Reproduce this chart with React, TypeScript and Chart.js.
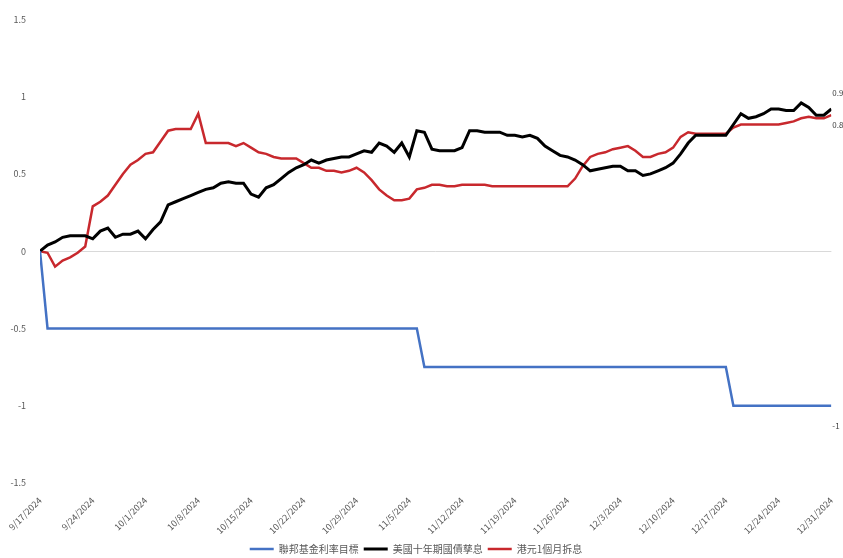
import React, { useEffect, useRef } from "react";
import { Chart, registerables } from "chart.js";

Chart.register(...registerables);

// Day index 0 = 9/17/2024 ... 105 = 12/31/2024
const TICK_LABELS = [
  "9/17/2024", "9/24/2024", "10/1/2024", "10/8/2024", "10/15/2024", "10/22/2024",
  "10/29/2024", "11/5/2024", "11/12/2024", "11/19/2024", "11/26/2024", "12/3/2024",
  "12/10/2024", "12/17/2024", "12/24/2024", "12/31/2024",
];

const SERIES_NAMES = ["聯邦基金利率目標", "美國十年期國債孳息", "港元1個月拆息"];

// Fed funds target change: step points (day index, value)
const FED_DAYS = [0, 1, 50, 51, 91, 92, 105];
const FED_VALUES = [0, -0.5, -0.5, -0.75, -0.75, -1, -1];

const UST10Y = [
  0, 0.04, 0.06, 0.09, 0.1, 0.1, 0.1, 0.08, 0.13, 0.15,
  0.09, 0.11, 0.11, 0.13, 0.08, 0.14, 0.19, 0.3, 0.32, 0.34,
  0.36, 0.38, 0.4, 0.41, 0.44, 0.45, 0.44, 0.44, 0.37, 0.35,
  0.41, 0.43, 0.47, 0.51, 0.54, 0.56, 0.59, 0.57, 0.59, 0.6,
  0.61, 0.61, 0.63, 0.65, 0.64, 0.7, 0.68, 0.64, 0.7, 0.61,
  0.78, 0.77, 0.66, 0.65, 0.65, 0.65, 0.67, 0.78, 0.78, 0.77,
  0.77, 0.77, 0.75, 0.75, 0.74, 0.75, 0.73, 0.68, 0.65, 0.62,
  0.61, 0.59, 0.56, 0.52, 0.53, 0.54, 0.55, 0.55, 0.52, 0.52,
  0.49, 0.5, 0.52, 0.54, 0.57, 0.63, 0.7, 0.75, 0.75, 0.75,
  0.75, 0.75, 0.82, 0.89, 0.86, 0.87, 0.89, 0.92, 0.92, 0.91,
  0.91, 0.96, 0.93, 0.88, 0.88, 0.92,
];

const HIBOR1M = [
  0, -0.01, -0.1, -0.06, -0.04, -0.01, 0.03, 0.29, 0.32, 0.36,
  0.43, 0.5, 0.56, 0.59, 0.63, 0.64, 0.71, 0.78, 0.79, 0.79,
  0.79, 0.89, 0.7, 0.7, 0.7, 0.7, 0.68, 0.7, 0.67, 0.64,
  0.63, 0.61, 0.6, 0.6, 0.6, 0.57, 0.54, 0.54, 0.52, 0.52,
  0.51, 0.52, 0.54, 0.51, 0.46, 0.4, 0.36, 0.33, 0.33, 0.34,
  0.4, 0.41, 0.43, 0.43, 0.42, 0.42, 0.43, 0.43, 0.43, 0.43,
  0.42, 0.42, 0.42, 0.42, 0.42, 0.42, 0.42, 0.42, 0.42, 0.42,
  0.42, 0.47, 0.55, 0.61, 0.63, 0.64, 0.66, 0.67, 0.68, 0.65,
  0.61, 0.61, 0.63, 0.64, 0.67, 0.74, 0.77, 0.76, 0.76, 0.76,
  0.76, 0.76, 0.8, 0.82, 0.82, 0.82, 0.82, 0.82, 0.82, 0.83,
  0.84, 0.86, 0.87, 0.86, 0.86, 0.88,
];

const FONT = '"Noto Sans CJK TC", "Noto Sans", sans-serif';

const endLabels = {
  id: "endLabels",
  afterDatasetsDraw(chart: any) {
    const ctx = chart.ctx;
    const offsets = [20, -16, 10];
    ctx.save();
    ctx.font = `8px ${FONT}`;
    ctx.fillStyle = "#404040";
    ctx.textAlign = "left";
    ctx.textBaseline = "middle";
    chart.data.datasets.forEach((ds: any, i: number) => {
      const meta = chart.getDatasetMeta(i);
      const pt = meta.data[meta.data.length - 1];
      const raw = ds.data[ds.data.length - 1];
      const v = typeof raw === "number" ? raw : raw.y;
      const text = i === 0 ? String(v) : v.toFixed(2);
      ctx.fillText(text, pt.x + 1, pt.y + offsets[i]);
    });
    ctx.restore();
  },
};

export default function App() {
  const ref = useRef<HTMLCanvasElement>(null);

  useEffect(() => {
    if (!ref.current) return;
    const toPts = (arr: number[]) => arr.map((y, x) => ({ x, y }));
    const chart = new Chart(ref.current, {
      type: "line",
      data: {
        datasets: [
          {
            label: SERIES_NAMES[0],
            data: FED_DAYS.map((x, i) => ({ x, y: FED_VALUES[i] })),
            borderColor: "#4472C4",
            backgroundColor: "#4472C4",
            borderWidth: 2.5,
            pointRadius: 0,
            tension: 0,
          },
          {
            label: SERIES_NAMES[1],
            data: toPts(UST10Y),
            borderColor: "#000000",
            backgroundColor: "#000000",
            borderWidth: 3,
            pointRadius: 0,
            tension: 0,
          },
          {
            label: SERIES_NAMES[2],
            data: toPts(HIBOR1M),
            borderColor: "#C8282D",
            backgroundColor: "#C8282D",
            borderWidth: 2.5,
            pointRadius: 0,
            tension: 0,
          },
        ],
      },
      options: {
        animation: false,
        responsive: true,
        maintainAspectRatio: false,
        layout: { padding: { top: 17, right: 11, left: 0, bottom: -6 } },
        plugins: {
          legend: {
            position: "bottom",
            labels: {
              usePointStyle: true,
              pointStyle: "line",
              pointStyleWidth: 24,
              color: "#595959",
              font: { family: FONT, size: 10 },
              padding: 5,
            },
          },
          tooltip: { enabled: false },
        },
        scales: {
          x: {
            type: "linear",
            min: 0,
            max: 105,
            afterFit: (s: any) => {
              s.height = 56;
            },
            ticks: {
              stepSize: 7,
              autoSkip: false,
              maxRotation: 45,
              minRotation: 45,
              color: "#595959",
              font: { family: FONT, size: 9 },
              padding: 4,
              callback: (v: any) => TICK_LABELS[Math.round(Number(v) / 7)] ?? "",
            },
            grid: { display: false },
            border: { display: false },
          },
          y: {
            min: -1.5,
            max: 1.5,
            afterFit: (s: any) => {
              s.width = 40;
            },
            ticks: {
              stepSize: 0.5,
              color: "#595959",
              font: { family: FONT, size: 9 },
              padding: 14,
              callback: (v: any) => String(Number(v)),
            },
            grid: {
              drawTicks: false,
              color: (c: any) => (c.tick && c.tick.value === 0 ? "#d9d9d9" : "rgba(0,0,0,0)"),
            },
            border: { display: false },
          },
        },
      },
      plugins: [endLabels],
    });
    return () => chart.destroy();
  }, []);

  return (
    <div style={{ position: "absolute", left: 0, top: 0, width: 843, height: 558, background: "#fff" }}>
      <canvas ref={ref} />
    </div>
  );
}
